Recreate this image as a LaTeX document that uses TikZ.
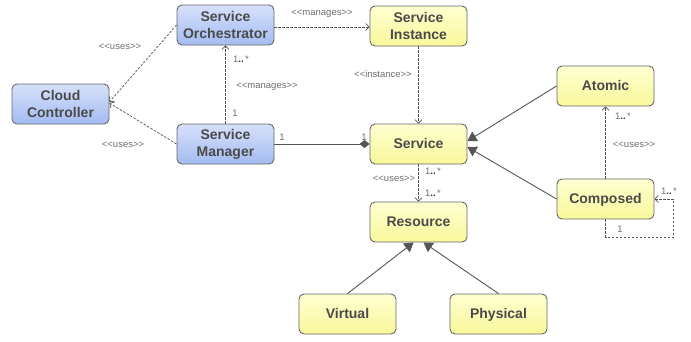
\documentclass[tikz,border=0pt]{standalone}
\usepackage{fontspec}
\setmainfont{Liberation Sans}
\usetikzlibrary{arrows.meta,calc}
\definecolor{bord}{HTML}{666666}
\definecolor{txt}{HTML}{4A4A4A}
\definecolor{lbl}{HTML}{6E6E6E}
\definecolor{line}{HTML}{555555}
\definecolor{btop}{HTML}{D6E0FA}
\definecolor{bbot}{HTML}{A3BCF2}
\definecolor{ytop}{HTML}{FFFFD2}
\definecolor{ybot}{HTML}{F8F89A}
\tikzset{
  box/.style={draw=bord, line width=0.9pt, rounded corners=5pt, minimum width=97pt, minimum height=40pt,
    align=center, text=txt, font=\fontsize{14}{17}\selectfont\bfseries, inner sep=0pt},
  bluebox/.style={box, top color=btop, bottom color=bbot},
  yelbox/.style={box, top color=ytop, bottom color=ybot},
  dep/.style={draw=line, line width=0.7pt, dash pattern=on 2.5pt off 1.5pt, -{Straight Barb[length=3.5pt,width=7pt]}},
  gen/.style={draw=line, line width=0.9pt, -{Triangle[length=9pt,width=11pt]}},
  comp/.style={draw=line, line width=0.9pt, {Diamond[length=10pt,width=8pt]}-},
  lab/.style={text=lbl, font=\fontsize{9.5}{11}\selectfont, inner sep=0pt},
}
\newcommand{\mult}{1\textbf{\color{black!80}..}\,*}
\newcommand{\st}[1]{<{}<#1>{}>}
\newcommand{\one}[1]{\smash{#1}\vphantom{A}}
\begin{document}
\begin{tikzpicture}[x=1pt,y=-1pt]
\useasboundingbox (0,0) rectangle (691,341);
\node[bluebox] (orch) at (225.5,25) {Service\\Orchestrator};
\node[yelbox] (inst) at (418.5,26) {Service\\Instance};
\node[bluebox] (cc) at (60.5,104) {Cloud\\Controller};
\node[bluebox] (mgr) at (225.5,144) {Service\\Manager};
\node[yelbox] (svc) at (418.5,144) {\one{Service}};
\node[yelbox] (atom) at (605.5,86) {\one{Atomic}};
\node[yelbox] (cmp) at (605.5,199) {\one{Composed}};
\node[yelbox] (res) at (418.5,222) {\one{Resource}};
\node[yelbox] (virt) at (347.5,314) {\one{Virtual}};
\node[yelbox] (phys) at (498.5,314) {\one{Physical}};

\draw[dep] (orch.west) -- ($(cc.east)+(0,-2)$);
\draw[dep] (mgr.west) -- ($(cc.east)+(0,-1)$);
\draw[dep] ($(orch.east)+(0,2)$) -- ($(inst.west)+(0,1)$);
\draw[dep] (mgr.north) -- (orch.south);
\draw[dep] (inst.south) -- (svc.north);
\draw[comp] (svc.west) -- (mgr.east);
\draw[gen] (atom.west) -- ($(svc.east)+(0,-3)$);
\draw[gen] (cmp.west) -- ($(svc.east)+(0,3)$);
\draw[dep] (svc.south) -- (res.north);
\draw[dep] (cmp.north) -- (atom.south);
\draw[dep] (cmp.south) -- ++(0,18) -| ($(cmp.east)+(19,0)$) -- (cmp.east);
\draw[gen] (virt.north) -- ($(res.south)+(-5,0)$);
\draw[gen] (phys.north) -- ($(res.south)+(5,0)$);

\node[lab] (l1) at (120,47) {\st{uses}};
\node[lab] (l2) at (123,145) {\st{uses}};
\node[lab] (l3) at (322,14) {\st{manages}};
\node[lab] (l4) at (241,59) {\mult};
\node[lab] (l5) at (267,87) {\st{manages}};
\node[lab] (l6) at (235,113) {1};
\node[lab] (l7) at (282,137) {1};
\node[lab] (l8) at (364,137) {1};
\node[lab] (l9) at (383,74) {\st{instance}};
\node[lab] (l10) at (433,171) {\mult};
\node[lab] (l11) at (394,179) {\st{uses}};
\node[lab] (l12) at (433,193) {\mult};
\node[lab] (l13) at (623,116) {\mult};
\node[lab] (l14) at (634,145) {\st{uses}};
\node[lab] (l15) at (669,191) {\mult};
\node[lab] (l16) at (620,229) {1};
\end{tikzpicture}
\end{document}
